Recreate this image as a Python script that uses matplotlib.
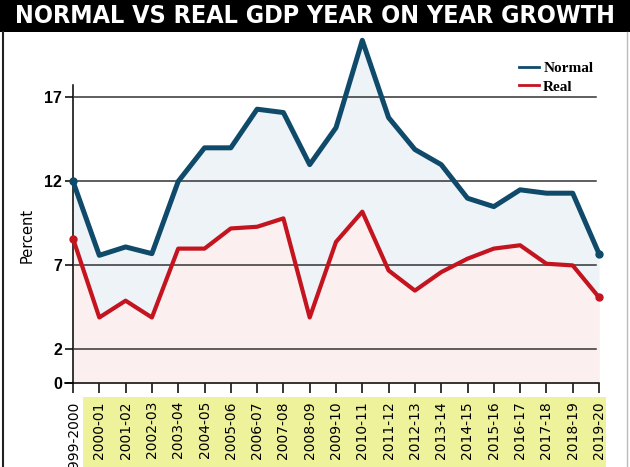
import numpy as np
import matplotlib
matplotlib.use("Agg")
import matplotlib.pyplot as plt
from matplotlib.patches import Rectangle
from matplotlib.lines import Line2D

years = ["1999-2000", "2000-01", "2001-02", "2002-03", "2003-04", "2004-05",
         "2005-06", "2006-07", "2007-08", "2008-09", "2009-10", "2010-11",
         "2011-12", "2012-13", "2013-14", "2014-15", "2015-16", "2016-17",
         "2017-18", "2018-19", "2019-20"]
normal = [12.0, 7.6, 8.1, 7.7, 12.0, 14.0, 14.0, 16.3, 16.1, 13.0, 15.2,
          20.4, 15.8, 13.9, 13.0, 11.0, 10.5, 11.5, 11.3, 11.3, 7.7]
real = [8.6, 3.9, 4.9, 3.9, 8.0, 8.0, 9.2, 9.3, 9.8, 3.9, 8.4,
        10.2, 6.7, 5.5, 6.6, 7.4, 8.0, 8.2, 7.1, 7.0, 5.1]
yticks = [0, 2, 7, 12, 17]

blue = "#0f4a6b"
red = "#c3141f"

fig = plt.figure(figsize=(6.3, 4.67), dpi=100)
W, H = 630, 467

# title bar
fig.patches.append(Rectangle((0, 1 - 32 / H), 1, 32 / H, transform=fig.transFigure,
                             facecolor="black", edgecolor="none", zorder=-2))
fig.text(0.5, 1 - 16 / H, "NORMAL VS REAL GDP YEAR ON YEAR GROWTH", color="white",
         ha="center", va="center", fontsize=18, fontweight="bold",
         family="DejaVu Sans", fontstretch="condensed")
# frame lines
fig.add_artist(Line2D([3 / W, 3 / W], [0, 1 - 32 / H], color="#222222", lw=1.5,
                      transform=fig.transFigure))
fig.add_artist(Line2D([627 / W, 627 / W], [0, 1 - 32 / H], color="#bbbbbb", lw=1,
                      transform=fig.transFigure))
# yellow band behind the tick labels
fig.patches.append(Rectangle((83 / W, 0), (606 - 83) / W, (467 - 397) / H,
                             transform=fig.transFigure, facecolor="#eef29a",
                             edgecolor="none", zorder=-2))

ax = fig.add_axes([73 / W, (467 - 383) / H, (599 - 73) / W, (383 - 85) / H])
ax.patch.set_alpha(0)
x = np.arange(len(years))

ax.fill_between(x, 0, normal, color="#edf3f6", zorder=1, clip_on=False, lw=0)
ax.fill_between(x, 0, real, color="#fcefef", zorder=2, clip_on=False, lw=0)
for yv in yticks[1:]:
    ax.axhline(yv, xmin=0, xmax=0.994, color="#333333", lw=1.1, zorder=3)
ax.plot(x, normal, color=blue, lw=3.6, solid_joinstyle="round", clip_on=False,
        zorder=5, label="Normal", marker="o", markevery=[0, len(x) - 1], ms=5)
ax.plot(x, real, color=red, lw=3.0, solid_joinstyle="round", clip_on=False,
        zorder=4, label="Real", marker="o", markevery=[0, len(x) - 1], ms=5)

ax.set_xlim(0, 20)
ax.set_ylim(0, 17.74)
ax.set_yticks(yticks)
ax.set_yticklabels([str(v) for v in yticks], fontsize=11.5, fontweight="bold",
                   family="Liberation Sans")
ax.set_xticks(x)
ax.set_xticklabels(years, rotation=90, fontsize=10, va="top", family="DejaVu Sans")
ax.tick_params(axis="y", length=6, width=1.1, pad=2)
ax.tick_params(axis="x", length=7, width=1.1, direction="out", pad=6)
ax.spines["top"].set_visible(False)
ax.spines["right"].set_visible(False)
ax.spines["left"].set_linewidth(1.1)
ax.spines["bottom"].set_linewidth(1.1)
ax.spines["bottom"].set_bounds(-0.3, 20)

ax.set_ylabel("Percent", fontsize=10.5)
ax.yaxis.set_label_coords(-38 / (599 - 73), (383 - 235) / (383 - 85))

leg = ax.legend(loc="upper left", bbox_to_anchor=(505 / W, 1 - 48 / H),
                bbox_transform=fig.transFigure, frameon=False, handlelength=1.3,
                handletextpad=0.3, labelspacing=0.3,
                prop={"family": "Liberation Serif", "weight": "bold", "size": 11})
for h in leg.get_lines():
    h.set_linewidth(2)
    h.set_marker("")

fig.savefig("out.png", dpi=100)
